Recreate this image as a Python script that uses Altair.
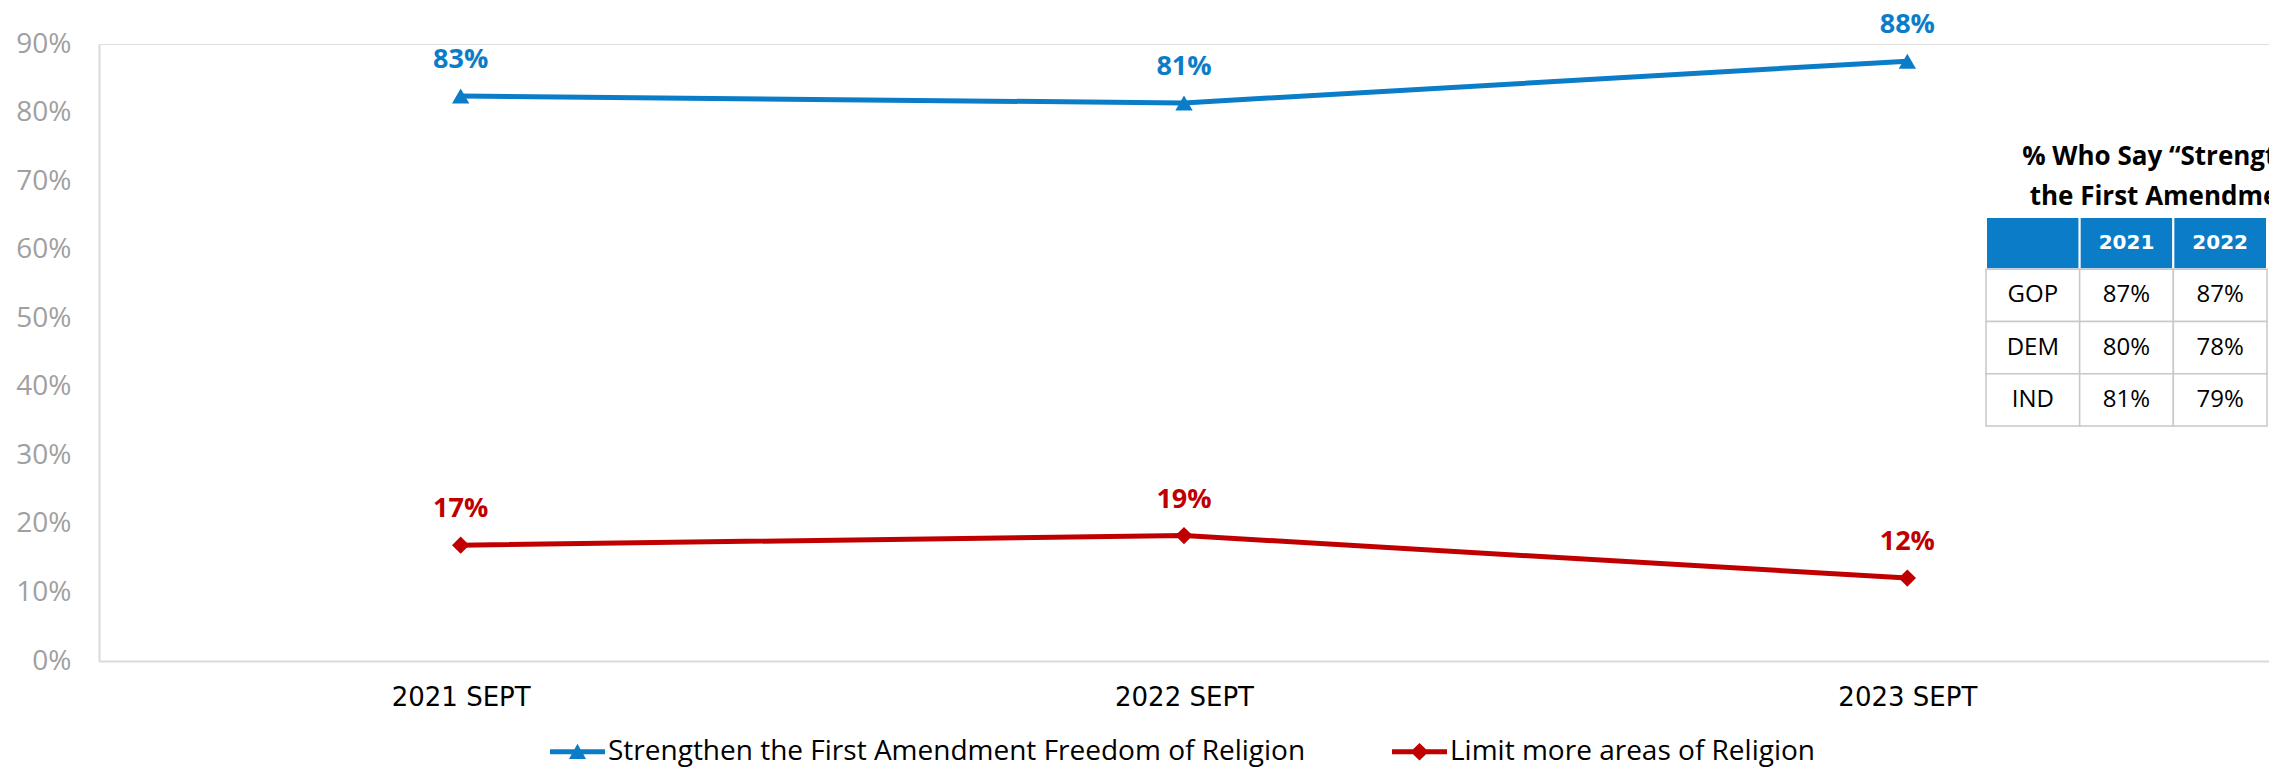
import altair as alt
import pandas as pd

# ---------------- data ----------------
periods = ["2021 SEPT", "2022 SEPT", "2023 SEPT"]
series_names = [
    "Strengthen the First Amendment Freedom of Religion",
    "Limit more areas of Religion",
]
strengthen_values = [82.4, 81.4, 87.5]
limit_values = [16.9, 18.3, 12.1]
strengthen_labels = ["83%", "81%", "88%"]
limit_labels = ["17%", "19%", "12%"]
y_ticks = [0, 10, 20, 30, 40, 50, 60, 70, 80, 90]

table_title = ["% Who Say \u201cStrengthen", "the First Amendment\u201d"]
table_years = ["2021", "2022"]
table_parties = ["GOP", "DEM", "IND"]
table_2021 = ["87%", "80%", "81%"]
table_2022 = ["87%", "78%", "79%"]

# ---------------- styles ----------------
BLUE = "#0B7DC8"
RED = "#C00000"
AXIS_GRAY = "#d9d9d9"

rows = []
for name, vals, labs in zip(series_names, [strengthen_values, limit_values],
                            [strengthen_labels, limit_labels]):
    for p, v, l in zip(periods, vals, labs):
        rows.append({"period": p, "series": name, "value": v, "label": l})
df = pd.DataFrame(rows)

cells = []
col_keys = ["party"] + table_years
cells.append({"row": "header", "col": "party", "text": "", "kind": "header"})
for yr in table_years:
    cells.append({"row": "header", "col": yr, "text": yr, "kind": "header"})
for party, v1, v2 in zip(table_parties, table_2021, table_2022):
    cells.append({"row": party, "col": "party", "text": party, "kind": "body"})
    cells.append({"row": party, "col": table_years[0], "text": v1, "kind": "body"})
    cells.append({"row": party, "col": table_years[1], "text": v2, "kind": "body"})
tdf = pd.DataFrame(cells)
row_keys = ["header"] + table_parties

# ---------------- main chart ----------------
x_enc = alt.X(
    "period:N",
    sort=periods,
    scale=alt.Scale(type="point", domain=periods, padding=0.5),
    axis=alt.Axis(
        title=None, labelAngle=0, ticks=False, tickSize=0,
        domainColor=AXIS_GRAY, domainWidth=2,
        labelFont="DejaVu Sans", labelFontSize=26, labelColor="#000000",
        labelPadding=23,
    ),
)
y_enc = alt.Y(
    "value:Q",
    scale=alt.Scale(domain=[0, 90], nice=False, zero=True),
    axis=alt.Axis(
        title=None, values=y_ticks, labelExpr="datum.value + '%'",
        ticks=False, tickSize=0, grid=False,
        domainColor=AXIS_GRAY, domainWidth=2,
        labelFont="Open Sans", labelFontSize=28, labelColor="#a0a0a0",
        labelPadding=28,
    ),
)
color_scale = alt.Scale(domain=series_names, range=[BLUE, RED])

base = alt.Chart(df)

lines = base.mark_line(strokeWidth=5).encode(
    x=x_enc, y=y_enc,
    color=alt.Color("series:N", scale=color_scale, legend=None),
)
points = base.mark_point(filled=True, size=300, opacity=1).encode(
    x=x_enc, y=y_enc,
    color=alt.Color("series:N", scale=color_scale, legend=None),
    shape=alt.Shape("series:N",
                    scale=alt.Scale(domain=series_names, range=["triangle-up", "diamond"]),
                    legend=None),
)
labels = base.mark_text(font="Open Sans", fontSize=27, fontWeight="bold",
                        baseline="alphabetic", dy=-28).encode(
    x=x_enc, y=y_enc, text="label:N",
    color=alt.Color("series:N", scale=color_scale, legend=None),
)

tri_path = "M-1,-0.09L1,-0.09L1,0.09L-1,0.09Z M0,-0.29L0.31,0.26L-0.31,0.26Z"
dia_path = "M-1,-0.09L1,-0.09L1,0.09L-1,0.09Z M0,-0.32L0.33,0L0,0.32L-0.33,0Z"
legend_props = dict(
    orient="none", legendX=451, legendY=680, direction="horizontal", title=None,
    labelFont="Open Sans", labelFontSize=28, labelColor="#000000", labelLimit=2000,
    symbolSize=3025, symbolOpacity=1, symbolStrokeWidth=0, labelOffset=3,
    columnPadding=86, padding=0,
)
ghost = base.mark_point(filled=True, opacity=0, size=3025).encode(
    x=x_enc, y=y_enc,
    color=alt.Color("series:N", scale=color_scale, legend=alt.Legend(**legend_props)),
    shape=alt.Shape("series:N",
                    scale=alt.Scale(domain=series_names, range=[tri_path, dia_path]),
                    legend=alt.Legend(**legend_props)),
)

main = alt.layer(lines, points, labels, ghost).resolve_scale(
    color="independent", shape="independent")

# ---------------- table ----------------
tx = alt.X("col:N", sort=col_keys,
           scale=alt.Scale(type="band", domain=col_keys, range=[1887, 2168],
                           paddingInner=0, paddingOuter=0), axis=None)
ty = alt.Y("row:N", sort=row_keys,
           scale=alt.Scale(type="band", domain=row_keys, range=[173, 382],
                           paddingInner=0, paddingOuter=0), axis=None)

tbase = alt.Chart(tdf)
hdr_rect = tbase.transform_filter("datum.kind == 'header'").mark_rect(
    fill=BLUE, stroke="#ffffff", strokeWidth=2).encode(x=tx, y=ty)
body_rect = tbase.transform_filter("datum.kind == 'body'").mark_rect(
    fill="#ffffff", stroke="#c8c8c8", strokeWidth=1.5).encode(x=tx, y=ty)
hdr_text = tbase.transform_filter("datum.kind == 'header'").mark_text(
    font="DejaVu Sans", fontWeight="bold", fontSize=20, color="#ffffff",
    baseline="middle").encode(x=tx, y=ty, text="text:N")
body_text = tbase.transform_filter("datum.kind == 'body'").mark_text(
    font="Open Sans", fontSize=24, color="#000000",
    baseline="middle").encode(x=tx, y=ty, text="text:N")
title_text = alt.Chart(pd.DataFrame({"k": [0]})).mark_text(
    font="Open Sans", fontWeight="bold", fontSize=26, color="#000000",
    align="center", baseline="alphabetic", lineHeight=40).encode(
    x=alt.value(2075), y=alt.value(121), text=alt.value(table_title))

table = alt.layer(hdr_rect, body_rect, hdr_text, body_text, title_text)

chart = alt.layer(main, table).resolve_scale(x="independent", y="independent").properties(
    width=2170, height=617,
    padding={"left": 91, "top": 36, "right": 0, "bottom": 106},
    autosize=alt.AutoSizeParams(type="none"),
).configure_view(strokeWidth=0).configure(background="#ffffff")

chart.save("out.html", embed_options={"renderer": "svg", "actions": False})
